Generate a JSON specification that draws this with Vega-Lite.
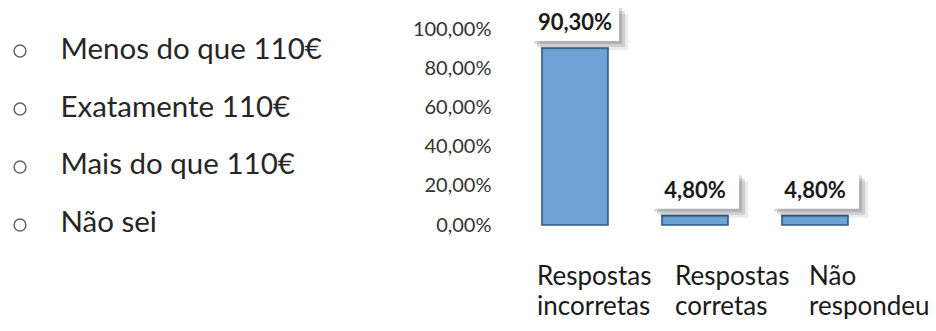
{
  "$schema": "https://vega.github.io/schema/vega-lite/v6.json",
  "background": "white",
  "autosize": {"type": "pad"},
  "padding": {"left": 11, "top": 4, "right": 0, "bottom": 0},
  "config": {
    "locale": {"number": {"decimal": ",", "thousands": ".", "grouping": [3], "currency": ["", " €"]}},
    "view": {"stroke": null},
    "font": "Lato",
    "concat": {"spacing": 90}
  },
  "datasets": {
    "lista": [
      {"opcao": "Menos do que 110€"},
      {"opcao": "Exatamente 110€"},
      {"opcao": "Mais do que 110€"},
      {"opcao": "Não sei"}
    ],
    "resultados": [
      {"resposta": "Respostas incorretas", "percentagem": 0.903},
      {"resposta": "Respostas corretas", "percentagem": 0.048},
      {"resposta": "Não respondeu", "percentagem": 0.048}
    ]
  },
  "hconcat": [
    {
      "width": 14,
      "height": 214,
      "data": {"name": "lista"},
      "mark": {"type": "point", "shape": "circle", "filled": false, "stroke": "#262626", "strokeWidth": 1.5, "size": 140, "yOffset": 2},
      "encoding": {
        "y": {
          "field": "opcao", "type": "nominal", "sort": null,
          "scale": {"type": "point", "padding": 0.345},
          "axis": {
            "orient": "right", "title": null, "domain": false, "ticks": false, "grid": false,
            "labelAlign": "left", "labelPadding": 33, "labelFontSize": 29.5, "labelColor": "#262626",
            "labelLimit": 0, "labelOverlap": false, "labelBound": false
          }
        }
      }
    },
    {
      "width": 360,
      "height": 196,
      "data": {"name": "resultados"},
      "encoding": {
        "x": {
          "field": "resposta", "type": "nominal", "sort": null,
          "scale": {"paddingInner": 0.45, "paddingOuter": 0.225},
          "axis": {
            "title": null, "domain": false, "ticks": false, "labelAngle": 0,
            "labelFontSize": 26, "labelColor": "#1a1a1a", "labelPadding": 38,
            "labelAlign": "left", "labelBaseline": "top", "labelLineHeight": 30,
            "labelExpr": "split(datum.label, ' ')", "labelOverlap": false, "labelLimit": 0,
            "labelOffset": {
              "condition": [
                {"test": "datum.value === 'Respostas incorretas'", "value": -38},
                {"test": "datum.value === 'Respostas corretas'", "value": -20}
              ],
              "value": -6
            }
          }
        },
        "y": {
          "field": "percentagem", "type": "quantitative",
          "scale": {"domain": [0, 1], "nice": false},
          "axis": {
            "title": null, "domain": false, "ticks": false, "grid": false,
            "format": ".2%", "values": [0, 0.2, 0.4, 0.6, 0.8, 1],
            "labelFontSize": 20, "labelPadding": 24, "labelColor": "#333333"
          }
        }
      },
      "layer": [
        {"mark": {"type": "bar", "color": "#6fa3d6", "stroke": "#2f5b88", "strokeWidth": 1.6}},
        {"mark": {"type": "point", "shape": "M-1,-0.41L1,-0.41L1,0.41L-1,0.41Z", "size": 7744, "filled": true, "color": "#000000", "opacity": 0.14, "strokeWidth": 0, "xOffset": 3, "yOffset": -22}},
        {"mark": {"type": "point", "shape": "M-1,-0.41L1,-0.41L1,0.41L-1,0.41Z", "size": 7744, "filled": true, "color": "#000000", "opacity": 0.12, "strokeWidth": 0, "xOffset": 6, "yOffset": -19}},
        {"mark": {"type": "point", "shape": "M-1,-0.41L1,-0.41L1,0.41L-1,0.41Z", "size": 7744, "filled": true, "color": "#000000", "opacity": 0.08, "strokeWidth": 0, "xOffset": 9, "yOffset": -16}},
        {"mark": {"type": "point", "shape": "M-1,-0.41L1,-0.41L1,0.41L-1,0.41Z", "size": 7744, "filled": true, "color": "#ffffff", "opacity": 1, "strokeWidth": 0, "yOffset": -25}},
        {
          "mark": {"type": "text", "fontSize": 22, "fontWeight": "bold", "color": "#1a1a1a", "baseline": "middle", "yOffset": -25},
          "encoding": {"text": {"field": "percentagem", "type": "quantitative", "format": ".2%"}}
        }
      ]
    }
  ]
}
